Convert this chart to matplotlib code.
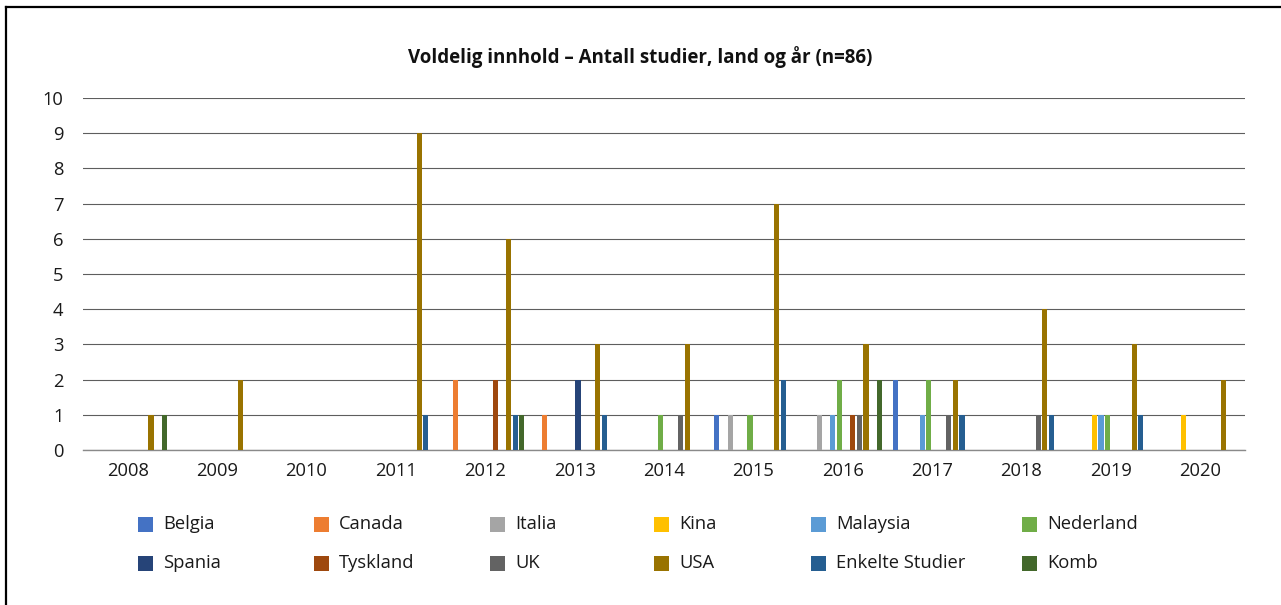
import numpy as np
import matplotlib.pyplot as plt
from matplotlib.patches import Rectangle
from matplotlib.lines import Line2D

plt.rcParams['font.family'] = ['Open Sans', 'DejaVu Sans']

years = ['2008', '2009', '2010', '2011', '2012', '2013', '2014',
         '2015', '2016', '2017', '2018', '2019', '2020']

series = ['Belgia', 'Canada', 'Italia', 'Kina', 'Malaysia', 'Nederland',
          'Spania', 'Tyskland', 'UK', 'USA', 'Enkelte Studier', 'Komb']

colors = ['#4472C4', '#ED7D31', '#A5A5A5', '#FFC000', '#5B9BD5', '#70AD47',
          '#264478', '#9E480E', '#636363', '#997300', '#255E91', '#43682B']

belgia    = [0, 0, 0, 0, 0, 0, 0, 1, 0, 2, 0, 0, 0]
canada    = [0, 0, 0, 0, 2, 1, 0, 0, 0, 0, 0, 0, 0]
italia    = [0, 0, 0, 0, 0, 0, 0, 1, 1, 0, 0, 0, 0]
kina      = [0, 0, 0, 0, 0, 0, 0, 0, 0, 0, 0, 1, 1]
malaysia  = [0, 0, 0, 0, 0, 0, 0, 0, 1, 1, 0, 1, 0]
nederland = [0, 0, 0, 0, 0, 0, 1, 1, 2, 2, 0, 1, 0]
spania    = [0, 0, 0, 0, 0, 2, 0, 0, 0, 0, 0, 0, 0]
tyskland  = [0, 0, 0, 0, 2, 0, 0, 0, 1, 0, 0, 0, 0]
uk        = [0, 0, 0, 0, 0, 0, 1, 0, 1, 1, 1, 0, 0]
usa       = [1, 2, 0, 9, 6, 3, 3, 7, 3, 2, 4, 3, 2]
enkelte   = [0, 0, 0, 1, 1, 1, 0, 2, 0, 1, 1, 1, 0]
komb      = [1, 0, 0, 0, 1, 0, 0, 0, 2, 0, 0, 0, 0]

values = [belgia, canada, italia, kina, malaysia, nederland,
          spania, tyskland, uk, usa, enkelte, komb]

W, H = 1281, 605
fig = plt.figure(figsize=(W / 100, H / 100), dpi=100)
ax = fig.add_axes([83 / W, 1 - 450 / H, (1245 - 83) / W, (450 - 98) / H])

x = np.arange(len(years))
slot = 0.0744
bw = 0.058
for i, (name, vals) in enumerate(zip(series, values)):
    ax.bar(x + (i - 5.5) * slot, vals, bw, color=colors[i], linewidth=0,
           label=name, zorder=3)

ax.set_xlim(-0.5, len(years) - 0.5)
ax.set_ylim(0, 10)
ax.set_yticks(range(0, 11))
ax.set_xticks(x)
ax.set_xticklabels(years)
ax.yaxis.grid(True, color='#5e5e5e', linewidth=0.8, zorder=0)
for s in ['top', 'right', 'left']:
    ax.spines[s].set_visible(False)
ax.spines['bottom'].set_color('#8a8a8a')
ax.spines['bottom'].set_linewidth(1.0)
ax.tick_params(axis='both', length=0, labelsize=13.2, colors='#1a1a1a')
ax.tick_params(axis='y', pad=14)
ax.tick_params(axis='x', pad=9)

fig.text(0.5, 1 - 57 / H, 'Voldelig innhold – Antall studier, land og år (n=86)',
         ha='center', va='center', fontsize=13.5, fontweight='bold', color='#111111')

# legend laid out in two rows like the original
col_x = [138, 314, 490, 654, 811, 1022]
row_y = [524, 563]
for i, name in enumerate(series):
    r, c = divmod(i, 6)
    x0 = col_x[c]
    y0 = row_y[r]
    fig.add_artist(Rectangle((x0 / W, 1 - (y0 + 7.5) / H), 15 / W, 15 / H,
                             transform=fig.transFigure, color=colors[i], lw=0))
    fig.text((x0 + 25) / W, 1 - y0 / H, name, ha='left', va='center',
             fontsize=13.2, color='#1a1a1a')

# frame (only left and top edges are visible)
fig.add_artist(Line2D([6 / W, 6 / W], [0, 1 - 7 / H], transform=fig.transFigure,
                      color='black', lw=1.6))
fig.add_artist(Line2D([6 / W, 1], [1 - 7 / H, 1 - 7 / H], transform=fig.transFigure,
                      color='black', lw=1.6))

fig.savefig('out.png', dpi=100)
